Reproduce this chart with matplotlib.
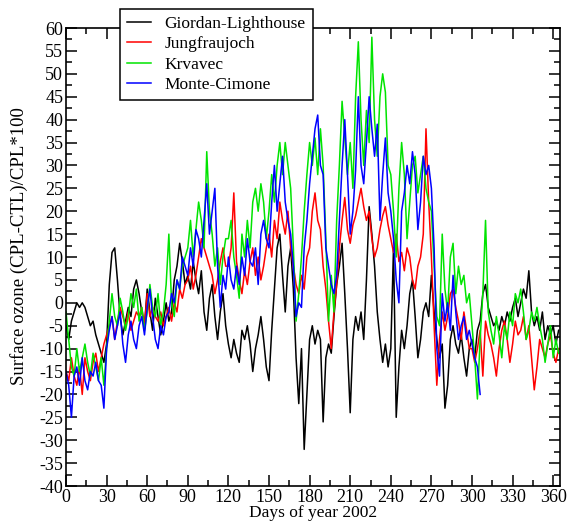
import numpy as np
import matplotlib
matplotlib.use("Agg")
import matplotlib.pyplot as plt
from matplotlib.ticker import MultipleLocator

plt.rcParams['font.family'] = ['Liberation Serif', 'DejaVu Serif']
plt.rcParams['axes.unicode_minus'] = False

# days sampled every second day of 2002
days = list(range(0, 365, 2))

giordan = [
    -5, -8, -4, -2, 0, -1, 0, -1, -3, -5, -4, -7, -9, -11, -13,
    -9, 4, 11, 12, 5, -3, -7, -4, -1, -3, 3, 5, 2, -2, -5,
    3, -2, -6, 1, -3, -7, -4, 0, -4, -2, 5, 8, 13, 9, 4,
    6, 3, 9, 5, 2, 7, -2, -6, 1, 4, -3, -8, -2, 2, -5,
    -9, -12, -8, -11, -13, -6, -8, -5, -9, -15, -10, -7, -3, -8, -14,
    -17, -6, 3, 12, 15, 6, -2, 8, 12, 3, -12, -22, -10, -32, -20,
    -8, -5, -9, -6, -8, -26, -12, -9, -11, -3, 4, 8, 13, 2, -10,
    -24, -8, -3, -6, -2, -8, 5, 21, 15, 8, -2, -8, -13, -9, -14,
    -10, 12, -25, -14, -6, -10, -5, 2, 5, -3, -12, -8, -2, 0, -3,
    6, -2, -8, -12, -9, -23, -18, -8, -5, -9, -11, -7, -12, -16, -10,
    -8, -12, -6, -4, 2, 4, -1, -3, -5, -4, -6, -3, -5, -2, -4,
    -1, 1, -3, 0, 3, 1, 7, -2, -5, -3, -6, -2, -8, -5, -7, -5, -9, -6,
]

jungfraujoch = [
    -15, -17, -12, -16, -18, -14, -20, -12, -15, -17, -13, -11, -15, -12, -9,
    -7, -5, -3, -8, -4, -1, -3, -5, -2, -6, -4, -2, -3, -1, -5,
    2, -3, -1, -3, -4, -2, -5, -3, -1, -4, 0, -2, 3, 1, 4,
    5, 8, 3, 6, 10, 14, 12, 10, 8, 6, 2, 5, 9, 12, 8,
    8, 12, 24, 9, 5, 2, 7, 4, 9, 12, 6, 10, 5, 8, 12,
    15, 10, 18, 14, 22, 18, 15, 20, 12, 8, 4, 2, 6, 3, 10,
    12, 20, 24, 18, 16, 8, 3, -4, -10, -2, 4, 12, 18, 23, 16,
    13, 17, 19, 22, 25, 21, 18, 20, 14, 10, 12, 16, 19, 21, 17,
    14, 11, 15, 9, 11, 7, 12, 10, 5, 3, 8, 10, 15, 38, 22,
    10, -5, -18, -8, -2, -6, -3, 2, 3, -1, -4, -8, -2, -6, -10,
    -10, -13, -10, -6, -16, -4, -7, -9, -12, -16, -10, -6, -4, -8, -13,
    -9, -4, -7, -6, -3, -8, -5, -12, -19, -14, -8, -10, -12, -9, -7, -11, -13, -10,
]

krvavec = [
    -2, -8, -14, -16, -10, -15, -12, -9, -13, -16, -11, -14, -17, -12, -18,
    -10, -4, 2, -3, -5, 1, -2, -6, -3, 2, -1, 3, -4, -1, -6,
    -2, 4, -1, -3, 2, -5, -2, 4, 15, 0, -3, 5, 3, 8, 10,
    12, 18, 10, 16, 22, 18, 12, 33, 20, 15, 8, 12, 4, 10, 14,
    14, 18, 10, 6, 1, 15, 10, 18, 12, 22, 25, 20, 26, 22, 14,
    20, 28, 22, 30, 35, 28, 35, 30, 25, 12, -4, 2, 10, 20, 28,
    35, 30, 36, 28, 38, 30, 14, -4, 6, -2, 18, 30, 44, 36, 28,
    35, 25, 45, 57, 40, 30, 42, 35, 58, 40, 32, 45, 50, 46, 30,
    28, 20, 10, 25, 35, 28, 14, 22, 30, 32, 24, 28, 32, 25, 22,
    20, 8, -3, -5, 15, 3, -2, 10, 13, 2, 8, 4, 6, 0, 2,
    -5, -12, -21, -8, 2, 18, -2, -6, -9, -3, -7, -12, -5, -8, -2,
    -5, 2, 0, 3, -2, -8, -6, -2, -4, -1, -5, -8, -13, -9, -5, -12, -8, -11,
]

# Monte-Cimone series stops at day 306
monte_cimone = [
    -15, -18, -25, -16, -14, -18, -12, -17, -19, -15, -16, -13, -17, -18, -23,
    -10, -6, -3, -8, -5, -2, -9, -13, -7, -4, -8, -10, -5, -3, -7,
    -1, 3, -3, -8, -10, -5, -7, -3, -2, 2, 0, 5, 3, 10, 8,
    6, 12, 8, 16, 14, 10, 18, 26, 15, 20, 25, 8, -1, 6, 3,
    10, 5, 3, 8, 4, 10, 6, 14, 9, 8, 12, 4, 15, 18, 14,
    12, 22, 30, 20, 26, 32, 22, 18, 15, 8, -3, 0, -1, 12, 18,
    26, 32, 38, 41, 30, 28, 12, 8, 4, 2, 6, 18, 30, 40, 28,
    15, 20, 29, 45, 30, 26, 35, 45, 38, 32, 39, 18, 28, 36, 24,
    20, 14, 5, 0, 20, 24, 30, 26, 33, 28, 16, 22, 32, 28, 30,
    25, 12, -10, -16, 2, -4, 0, -6, 6, -2, -8, -5, -3, -8, -6,
    -9, -12, -14, -20,
]

labels = ['Giordan-Lighthouse', 'Jungfraujoch', 'Krvavec', 'Monte-Cimone']
colors = ['black', '#ff0000', '#00e400', '#0000ff']

fig = plt.figure(figsize=(5.67, 5.24), dpi=100)
ax = fig.add_axes([0.1164, 0.0725, 0.8712, 0.874])

series = [giordan, jungfraujoch, krvavec, monte_cimone]
for vals, lab, col in zip(series, labels, colors):
    ax.plot(days[:len(vals)], vals, color=col, lw=1.1, label=lab)

ax.set_xlim(0, 365)
ax.set_ylim(-40, 60)
ax.xaxis.set_major_locator(MultipleLocator(30))
ax.xaxis.set_minor_locator(MultipleLocator(15))
ax.yaxis.set_major_locator(MultipleLocator(5))
ax.yaxis.set_minor_locator(MultipleLocator(2.5))
ax.tick_params(which='both', direction='in', top=True, right=True,
               labelsize=13, width=1.1)
ax.tick_params(which='major', length=8, pad=2)
ax.tick_params(which='minor', length=4)
for s in ax.spines.values():
    s.set_linewidth(1.2)

ax.set_xlabel('Days of year 2002', fontsize=12.5)
ax.set_ylabel('Surface ozone (CPL-CTL)/CPL*100', fontsize=13.5)
ax.xaxis.set_label_coords(0.5, -0.042)
ax.yaxis.set_label_coords(-0.077, 0.525)

leg = fig.legend(loc='upper left', bbox_to_anchor=(0.212, 0.983),
                 borderaxespad=0, fontsize=12.5, frameon=True, fancybox=False,
                 edgecolor='black', framealpha=1, handlelength=1.4,
                 labelspacing=0.25, borderpad=0.4, handletextpad=0.75)
leg.get_frame().set_linewidth(1.1)

fig.savefig('out.png', dpi=100)
